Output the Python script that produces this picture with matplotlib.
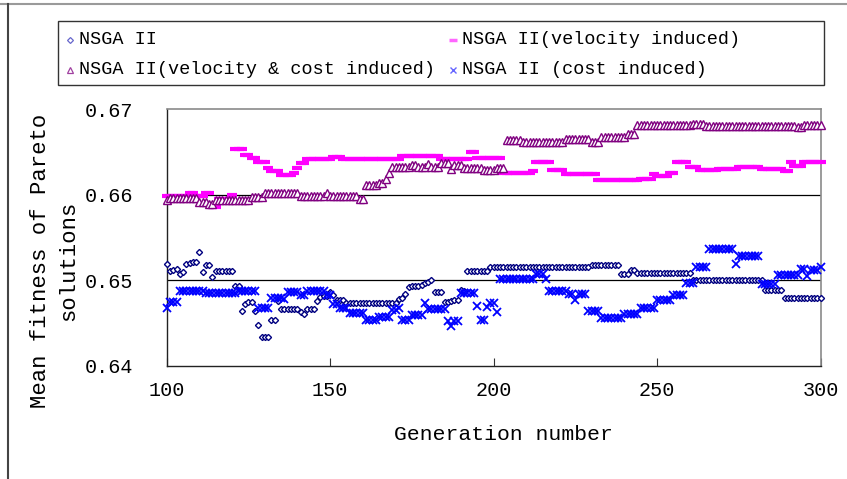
import numpy as np
import matplotlib
matplotlib.use("Agg")
import matplotlib.pyplot as plt
from matplotlib.lines import Line2D
from matplotlib.patches import Rectangle

# ---------------- data (run-length encoded, generations 100..300) ----------------
generations = list(range(100, 301))

nsga2_vals = [0.6519, 0.6511, 0.6512, 0.6513, 0.6507, 0.6510, 0.6519, 0.6520, 0.6521, 0.6521,
              0.6533, 0.6510, 0.6518, 0.6518, 0.6504, 0.6511, 0.6493, 0.6493, 0.6464, 0.6472,
              0.6475, 0.6475, 0.6464, 0.6448, 0.6433, 0.6453, 0.6476, 0.6466, 0.6463, 0.6460,
              0.6466, 0.6476, 0.6480, 0.6481, 0.6486, 0.6483, 0.6477, 0.6473, 0.6478, 0.6479,
              0.6484, 0.6492, 0.6493, 0.6494, 0.6497, 0.6498, 0.6500, 0.6486, 0.6475, 0.6476,
              0.6477, 0.6477, 0.6489, 0.6487, 0.6511, 0.6516, 0.6518, 0.6507, 0.6512, 0.6508,
              0.6500, 0.6489, 0.6479]
nsga2_runs = [1, 1, 1, 1, 1, 1, 1, 1, 1, 1,
              1, 1, 1, 1, 1, 6, 1, 1, 1, 1,
              1, 1, 1, 1, 3, 2, 1, 6, 1, 1,
              3, 1, 1, 2, 1, 1, 3, 16, 1, 1,
              1, 1, 3, 1, 1, 1, 1, 3, 2, 1,
              1, 1, 1, 1, 7, 31, 9, 3, 2, 17,
              22, 6, 12]

velocity_vals = [0.6599, 0.6602, 0.6599, 0.6602, 0.6586, 0.6595, 0.6600, 0.6653, 0.6647, 0.6643,
                 0.6638, 0.6631, 0.6628, 0.6623, 0.6626, 0.6631, 0.6637, 0.6642, 0.6644, 0.6642,
                 0.6645, 0.6642, 0.6650, 0.6643, 0.6626, 0.6628, 0.6638, 0.6629, 0.6624, 0.6617,
                 0.6618, 0.6624, 0.6622, 0.6626, 0.6638, 0.6633, 0.6629, 0.6630, 0.6632, 0.6630,
                 0.6628, 0.6638, 0.6634, 0.6638]
velocity_runs = [7, 2, 3, 2, 2, 4, 1, 3, 2, 2,
                 3, 1, 3, 4, 1, 1, 2, 8, 3, 18,
                 12, 9, 2, 8, 9, 1, 5, 4, 10, 13,
                 4, 1, 4, 2, 4, 3, 6, 6, 7, 7,
                 2, 1, 3, 6]

vel_cost_vals = [0.6594, 0.6596, 0.6591, 0.6589, 0.6594, 0.6597, 0.6602, 0.6598, 0.6602, 0.6598,
                 0.6595, 0.6611, 0.6614, 0.6619, 0.6625, 0.6632, 0.6635, 0.6632, 0.6636, 0.6632,
                 0.6637, 0.6630, 0.6635, 0.6631, 0.6629, 0.6631, 0.6664, 0.6662, 0.6665, 0.6662,
                 0.6668, 0.6671, 0.6682, 0.6683, 0.6680, 0.6679, 0.6682]
vel_cost_runs = [1, 9, 3, 2, 11, 4, 11, 8, 1, 9,
                 2, 4, 2, 1, 1, 6, 2, 3, 1, 3,
                 3, 1, 3, 6, 4, 3, 5, 13, 8, 3,
                 8, 3, 17, 4, 28, 2, 6]

cost_vals = [0.6468, 0.6475, 0.6487, 0.6485, 0.6487, 0.6467, 0.6479, 0.6478, 0.6486, 0.6483,
             0.6487, 0.6483, 0.6472, 0.6468, 0.6462, 0.6454, 0.6457, 0.6465, 0.6467, 0.6454,
             0.6459, 0.6473, 0.6466, 0.6452, 0.6446, 0.6452, 0.6485, 0.6470, 0.6454, 0.6469,
             0.6473, 0.6463, 0.6501, 0.6507, 0.6501, 0.6487, 0.6484, 0.6477, 0.6484, 0.6464,
             0.6456, 0.6461, 0.6467, 0.6477, 0.6483, 0.6497, 0.6516, 0.6537, 0.6519, 0.6528,
             0.6496, 0.6506, 0.6513, 0.6505, 0.6512, 0.6516]
cost_runs = [1, 3, 8, 10, 6, 4, 4, 1, 4, 2,
             6, 2, 2, 3, 5, 4, 4, 2, 1, 3,
             4, 1, 6, 1, 1, 2, 5, 1, 2, 1,
             2, 1, 11, 3, 1, 6, 2, 1, 3, 4,
             7, 5, 5, 5, 4, 3, 4, 8, 1, 7,
             5, 7, 2, 1, 3, 1]

legend_labels = ["NSGA II", "NSGA II(velocity induced)",
                 "NSGA II(velocity & cost induced)", "NSGA II (cost induced)"]
x_ticks = [100, 150, 200, 250, 300]
y_ticks = [0.64, 0.65, 0.66, 0.67]


def expand(vals, runs):
    out = np.repeat(np.array(vals), np.array(runs))
    assert len(out) == len(generations), len(out)
    return out


nsga2 = expand(nsga2_vals, nsga2_runs)
velocity = expand(velocity_vals, velocity_runs)
vel_cost = expand(vel_cost_vals, vel_cost_runs)
cost = expand(cost_vals, cost_runs)

# ---------------- figure ----------------
W, H = 847, 479
FONT = ["Liberation Mono", "DejaVu Sans Mono"]
fig = plt.figure(figsize=(W / 100, H / 100), dpi=100)
fig.patch.set_facecolor("white")


def fx(px):
    return px / W


def fy(py):
    return 1 - py / H


ax = fig.add_axes([fx(166.7), fy(365.7), fx(820.5) - fx(166.7), fy(109.3) - fy(365.7)])

styles = [
    dict(marker="D", ms=3.1, mfc="white", mec="#000080", mew=1.0, color="#000080"),
    dict(marker="_", ms=7, mew=3.0, color="#FF00FF", mec="#FF00FF"),
    dict(marker="^", ms=5.5, mfc="white", mec="#800080", mew=1.0, color="#800080"),
    dict(marker="x", ms=5.2, mew=1.3, color="#0000FF", mec="#0000FF"),
]
series = [nsga2, velocity, vel_cost, cost]

for ys, st in zip(series, styles):
    ax.plot(generations, ys, linestyle="none", clip_on=False, zorder=3, **st)

ax.set_xlim(100, 300)
ax.set_ylim(0.64, 0.67)
ax.set_xticks(x_ticks)
ax.set_yticks(y_ticks)
ax.set_yticklabels([f"{v:.2f}" for v in y_ticks])
for y in (0.65, 0.66):
    ax.axhline(y, color="black", lw=0.9, zorder=1)

for side in ("left", "bottom"):
    ax.spines[side].set_color("#222222")
    ax.spines[side].set_linewidth(1.0)
for side in ("top", "right"):
    ax.spines[side].set_color("#8a8a8a")
    ax.spines[side].set_linewidth(1.2)

ax.tick_params(axis="x", direction="in", length=6, width=0.8, pad=11,
               labelsize=14.5, color="#333333")
ax.tick_params(axis="y", length=0, pad=24, labelsize=14.5)
for lab in ax.get_xticklabels() + ax.get_yticklabels():
    lab.set_fontfamily(FONT)

fig.text(fx(503.5), fy(435), "Generation number", ha="center", va="center",
         fontsize=15.4, family=FONT)
fig.text(fx(54.5), fy(261), "Mean fitness of Pareto\nsolutions", ha="center", va="center",
         rotation=90, fontsize=16, family=FONT, linespacing=1.5, multialignment="center")

# ---------------- legend (manual, figure coords) ----------------
fig.patches.append(Rectangle((fx(58), fy(85)), fx(824) - fx(58), fy(21) - fy(85),
                             transform=fig.transFigure, fill=False,
                             edgecolor="#333333", lw=1.0))
leg_pos = [(70, 40), (453, 40), (70, 70), (453, 70)]
leg_styles = [
    dict(marker="D", ms=3.0, mfc="white", mec="#6666cc", mew=0.9),
    dict(marker="_", ms=6, mew=2.5, mec="#FF66FF"),
    dict(marker="^", ms=4.5, mfc="white", mec="#A040A0", mew=0.9),
    dict(marker="x", ms=4.2, mew=1.0, mec="#6666ff"),
]
for (px, py), st, lab in zip(leg_pos, leg_styles, legend_labels):
    fig.lines.append(Line2D([fx(px)], [fy(py)], transform=fig.transFigure,
                            linestyle="none", **st))
    fig.text(fx(px + 9), fy(py), lab, ha="left", va="center", fontsize=13.3, family=FONT)

# ---------------- outer frame (top + left) ----------------
fig.lines.append(Line2D([0, 1], [fy(4), fy(4)], transform=fig.transFigure,
                        color="#9a9a9a", lw=1.5))
fig.lines.append(Line2D([fx(8), fx(8)], [fy(4), 0], transform=fig.transFigure,
                        color="#444444", lw=1.5))

fig.savefig("out.png", dpi=100, facecolor="white")
